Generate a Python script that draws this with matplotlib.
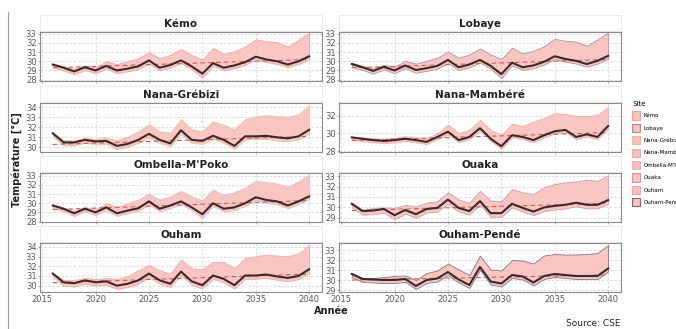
import matplotlib
matplotlib.use("Agg")
import matplotlib.pyplot as plt
from matplotlib.lines import Line2D
from matplotlib.patches import Patch

years = list(range(2016, 2041))

kemo_mean = [29.64, 29.30, 28.90, 29.35, 29.00, 29.50, 29.00, 29.20, 29.45, 30.10, 29.30, 29.60, 30.10,
             29.45, 28.65, 29.80, 29.30, 29.55, 29.90, 30.50, 30.20, 30.00, 29.65, 30.00, 30.55]
kemo_high = [29.80, 29.45, 29.20, 29.55, 29.35, 30.00, 29.70, 30.00, 30.35, 31.00, 30.35, 30.70, 31.35,
             30.70, 30.20, 31.45, 30.80, 31.10, 31.60, 32.40, 32.20, 32.10, 31.60, 32.35, 33.10]
kemo_low = [29.35, 29.00, 28.60, 29.05, 28.70, 29.20, 28.70, 28.90, 29.15, 29.75, 29.00, 29.30, 29.80,
            29.15, 28.20, 29.50, 29.00, 29.25, 29.60, 30.20, 29.90, 29.70, 29.35, 29.70, 30.25]

lobaye_mean = [29.70, 29.35, 28.95, 29.40, 29.00, 29.55, 29.05, 29.25, 29.50, 30.15, 29.35, 29.65, 30.15,
               29.50, 28.60, 29.85, 29.35, 29.55, 29.95, 30.55, 30.25, 30.05, 29.70, 30.05, 30.60]
lobaye_high = [29.85, 29.50, 29.25, 29.60, 29.40, 30.05, 29.75, 30.05, 30.40, 31.05, 30.40, 30.75, 31.40,
               30.75, 30.25, 31.50, 30.85, 31.15, 31.65, 32.45, 32.25, 32.15, 31.70, 32.40, 33.15]
lobaye_low = [29.40, 29.05, 28.65, 29.10, 28.70, 29.25, 28.75, 28.95, 29.20, 29.80, 29.05, 29.35, 29.85,
              29.20, 28.15, 29.55, 29.05, 29.25, 29.65, 30.25, 29.95, 29.75, 29.40, 29.75, 30.30]

grebizi_mean = [31.40, 30.50, 30.50, 30.75, 30.60, 30.65, 30.15, 30.35, 30.75, 31.35, 30.75, 30.40, 31.70,
                30.75, 30.65, 31.15, 30.75, 30.15, 31.10, 31.10, 31.15, 31.00, 30.90, 31.10, 31.75]
grebizi_high = [31.50, 30.75, 30.70, 30.95, 30.85, 30.95, 30.75, 31.05, 31.60, 32.30, 31.60, 31.45, 32.80,
                31.80, 31.60, 32.60, 32.25, 31.80, 32.80, 33.10, 33.20, 33.10, 33.05, 33.30, 34.20]
grebizi_low = [31.05, 30.20, 30.20, 30.45, 30.30, 30.35, 29.85, 30.05, 30.45, 31.00, 30.45, 30.10, 31.35,
               30.45, 30.35, 30.85, 30.45, 29.85, 30.80, 30.80, 30.85, 30.70, 30.60, 30.80, 31.40]

mambere_mean = [29.55, 29.40, 29.25, 29.15, 29.25, 29.40, 29.25, 29.05, 29.60, 30.20, 29.25, 29.60, 30.60,
                29.40, 28.55, 29.80, 29.60, 29.25, 29.80, 30.25, 30.40, 29.60, 29.90, 29.60, 30.85]
mambere_high = [29.65, 29.55, 29.45, 29.40, 29.50, 29.70, 29.55, 29.50, 30.00, 31.00, 30.05, 30.40, 31.55,
                30.40, 29.85, 31.10, 30.85, 31.35, 31.75, 32.30, 32.20, 32.00, 31.95, 32.10, 33.00]
mambere_low = [29.30, 29.15, 29.00, 28.90, 29.00, 29.15, 29.00, 28.80, 29.35, 29.90, 29.00, 29.35, 30.30,
               29.15, 28.25, 29.55, 29.35, 29.00, 29.55, 30.00, 30.15, 29.35, 29.65, 29.35, 30.55]

ombella_mean = [29.75, 29.40, 28.90, 29.40, 29.00, 29.55, 28.90, 29.20, 29.45, 30.20, 29.40, 29.75, 30.20,
                29.55, 28.80, 30.00, 29.40, 29.55, 30.00, 30.65, 30.35, 30.20, 29.75, 30.20, 30.75]
ombella_high = [29.90, 29.55, 29.20, 29.60, 29.35, 30.05, 29.60, 30.00, 30.40, 31.05, 30.40, 30.75, 31.35,
                30.75, 30.30, 31.50, 30.90, 31.20, 31.70, 32.45, 32.30, 32.15, 31.80, 32.40, 33.10]
ombella_low = [29.45, 29.10, 28.60, 29.10, 28.70, 29.25, 28.60, 28.90, 29.15, 29.85, 29.10, 29.45, 29.90,
               29.25, 28.35, 29.70, 29.10, 29.25, 29.70, 30.35, 30.05, 29.90, 29.45, 29.90, 30.45]

ouaka_mean = [30.35, 29.65, 29.70, 29.85, 29.25, 29.75, 29.35, 29.85, 29.95, 30.75, 29.95, 29.65, 30.60,
              29.45, 29.45, 30.35, 29.95, 29.60, 30.00, 30.15, 30.25, 30.45, 30.25, 30.25, 30.70]
ouaka_high = [30.45, 29.75, 29.95, 30.00, 29.95, 30.25, 30.10, 30.45, 30.60, 31.45, 30.75, 30.45, 31.60,
              30.65, 30.60, 31.75, 31.45, 31.30, 31.95, 32.25, 32.40, 32.50, 32.65, 32.55, 33.10]
ouaka_low = [30.00, 29.30, 29.35, 29.50, 28.85, 29.40, 29.00, 29.50, 29.60, 30.35, 29.60, 29.30, 30.25,
             29.10, 29.10, 30.00, 29.60, 29.25, 29.65, 29.80, 29.90, 30.10, 29.90, 29.90, 30.35]

ouham_mean = [31.25, 30.35, 30.25, 30.55, 30.35, 30.45, 30.00, 30.20, 30.55, 31.25, 30.55, 30.20, 31.45,
              30.45, 30.05, 31.05, 30.70, 30.05, 31.05, 31.05, 31.15, 30.95, 30.80, 31.00, 31.70]
ouham_high = [31.30, 30.60, 30.60, 30.80, 30.70, 30.80, 30.70, 31.00, 31.60, 32.15, 31.60, 31.25, 32.70,
              31.80, 31.70, 32.45, 32.45, 31.80, 32.85, 33.05, 33.20, 33.10, 33.05, 33.30, 34.20]
ouham_low = [30.90, 30.00, 29.90, 30.20, 30.00, 30.10, 29.65, 29.85, 30.20, 30.90, 30.20, 29.85, 31.10,
             30.10, 29.70, 30.70, 30.35, 29.70, 30.70, 30.70, 30.80, 30.60, 30.45, 30.65, 31.35]

pende_mean = [30.60, 30.10, 30.05, 30.00, 30.00, 30.10, 29.40, 30.00, 30.15, 30.80, 30.05, 29.50, 31.30,
              29.85, 29.65, 30.50, 30.35, 29.75, 30.40, 30.60, 30.50, 30.40, 30.40, 30.40, 31.15]
pende_high = [30.70, 30.20, 30.20, 30.30, 30.40, 30.45, 30.00, 30.70, 30.95, 31.65, 31.05, 30.50, 32.45,
              31.05, 30.95, 32.00, 31.95, 31.65, 32.45, 32.60, 32.55, 32.55, 32.60, 32.70, 33.50]
pende_low = [30.30, 29.80, 29.75, 29.70, 29.70, 29.80, 29.10, 29.70, 29.85, 30.50, 29.75, 29.20, 31.00,
             29.55, 29.35, 30.20, 30.05, 29.45, 30.10, 30.30, 30.20, 30.10, 30.10, 30.10, 30.85]

# dashed reference trend (value in 2016, value in 2040)
trends = {"Kémo": (29.3, 30.2), "Lobaye": (29.3, 30.2), "Nana-Grébizi": (30.3, 31.1),
          "Nana-Mambéré": (29.2, 30.1), "Ombella-M'Poko": (29.3, 30.3), "Ouaka": (29.7, 30.4),
          "Ouham": (30.3, 31.2), "Ouham-Pendé": (30.0, 30.5)}

sites = ["Kémo", "Lobaye", "Nana-Grébizi", "Nana-Mambéré", "Ombella-M'Poko", "Ouaka", "Ouham", "Ouham-Pendé"]
series = [(kemo_mean, kemo_high, kemo_low), (lobaye_mean, lobaye_high, lobaye_low),
          (grebizi_mean, grebizi_high, grebizi_low), (mambere_mean, mambere_high, mambere_low),
          (ombella_mean, ombella_high, ombella_low), (ouaka_mean, ouaka_high, ouaka_low),
          (ouham_mean, ouham_high, ouham_low), (pende_mean, pende_high, pende_low)]
ylims = [(27.85, 33.2), (27.85, 33.2), (29.55, 34.4), (27.9, 33.45),
         (27.95, 33.3), (28.6, 33.3), (29.35, 34.4), (28.8, 33.7)]
yticks = [range(28, 34), range(28, 34), range(30, 35), [28, 30, 32],
          range(28, 34), range(29, 34), range(30, 35), range(29, 34)]
edge_cols = ["#f0a0a0", "#a88aa8", "#dcc690", "#f2a6a6", "#dcb8d0", "#c09ab2", "#f0a6a6", "#7d6488"]
FILL = "#f9c0bc"

W, H = 676, 329
fig = plt.figure(figsize=(W / 100, H / 100), dpi=100)
fig.patch.set_facecolor("white")


def box(x, y, w, h):
    return [x / W, 1 - (y + h) / H, w / W, h / H]


col_x = [40, 339]
row_y = [32, 103, 173, 243]
pw, ph = 282, 49

for i, site in enumerate(sites):
    r, c = divmod(i, 2)
    x0, y0 = col_x[c], row_y[r]
    mean, high, low = series[i]

    # facet strip
    sax = fig.add_axes(box(x0, y0 - 17, pw, 16))
    sax.set_xticks([]); sax.set_yticks([])
    for s in sax.spines.values():
        s.set_color("#e6e6e6"); s.set_linewidth(0.6)
    sax.text(0.5, 0.45, site, ha="center", va="center", fontsize=7.5, fontweight="bold", color="#222222")

    ax = fig.add_axes(box(x0, y0, pw, ph))
    ax.fill_between(years, low, high, color=FILL, alpha=0.9, lw=0.6, edgecolor=edge_cols[i], zorder=2)
    t0, t1 = trends[site]
    ax.plot([years[0], years[-1]], [t0, t1], color="#d8584f", lw=0.8, ls=(0, (4, 3)), zorder=3)
    ax.plot(years, mean, color="#3b2a2c", lw=1.5, zorder=4)

    ax.set_xlim(2014.8, 2041.2)
    ax.set_ylim(*ylims[i])
    ax.set_xticks(range(2015, 2041, 5))
    ax.set_yticks(list(yticks[i]))
    ax.grid(True, color="#d6d6d6", lw=0.6, ls=(0, (3, 2)))
    ax.set_axisbelow(True)
    for s in ax.spines.values():
        s.set_color("#8a8a8a"); s.set_linewidth(0.8)
    ax.tick_params(length=1.5, width=0.5, color="#8a8a8a", labelsize=6, labelcolor="#5a5a5a", pad=1)
    if r < 3:
        ax.set_xticklabels([])

fig.text(331 / W, 1 - 311 / H, "Année", ha="center", va="center", fontsize=7, fontweight="bold", color="#222222")
fig.text(17 / W, 1 - 160 / H, "Température [°C]", ha="center", va="center", rotation=90,
         fontsize=7, fontweight="bold", color="#222222")
fig.text(621 / W, 1 - 324 / H, "Source: CSE", ha="right", va="center", fontsize=6.5, color="#222222")

# frame line on the left edge
fig.add_artist(Line2D([8 / W, 8 / W], [1 - 12 / H, 0], color="#9a9a9a", lw=0.8))

handles = [Patch(facecolor=FILL, edgecolor=edge_cols[i], lw=0.8) for i in range(len(sites))]
leg = fig.legend(handles, sites, title="Site", loc="upper left", bbox_to_anchor=(630 / W, 1 - 99 / H),
                 fontsize=4, title_fontsize=5, frameon=False, handlelength=1.4, handleheight=1.9,
                 labelspacing=0.75, handletextpad=0.6, borderaxespad=0)
leg._legend_box.align = "left"

fig.savefig("out.png", dpi=100)
